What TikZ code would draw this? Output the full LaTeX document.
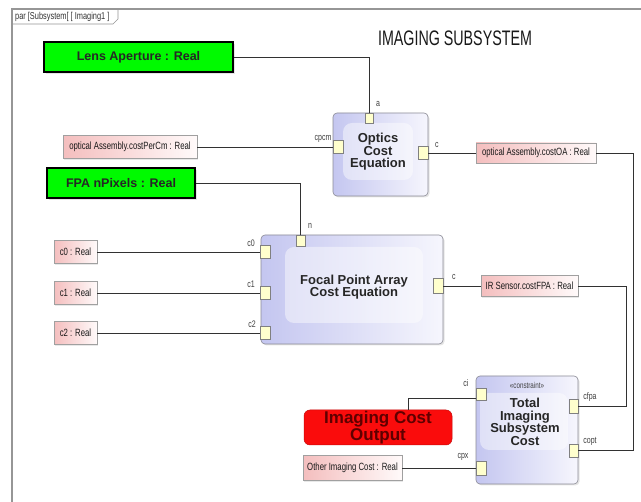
\documentclass[tikz,border=0pt]{standalone}
\usepackage{fontspec}
\setmainfont{Liberation Sans}
\newfontfamily\narrowfont[FakeStretch=0.74]{Liberation Sans}
\newfontfamily\headfont[FakeStretch=0.68]{Liberation Sans}
\usetikzlibrary{shadows}
\definecolor{framegray}{RGB}{150,150,150}
\definecolor{blockL}{RGB}{196,198,240}
\definecolor{blockR}{RGB}{246,246,253}
\definecolor{blockEdge}{RGB}{140,140,150}
\definecolor{portY}{RGB}{255,255,205}
\definecolor{pinkL}{RGB}{244,190,190}
\definecolor{pinkR}{RGB}{255,250,250}
\definecolor{valEdge}{RGB}{160,160,160}
\definecolor{wirec}{RGB}{50,50,50}
\definecolor{outRed}{RGB}{250,12,12}
\definecolor{outText}{RGB}{95,0,0}
\definecolor{limeg}{RGB}{0,250,0}
\tikzset{
  wire/.style={draw=wirec, line width=0.8pt},
  valbox/.style={draw=valEdge, line width=0.5pt, left color=pinkL, right color=pinkR,
    inner sep=0pt, text=black!90, font=\narrowfont\fontsize{10.5}{11}\selectfont,
    drop shadow={shadow xshift=1.2pt, shadow yshift=-1.2pt, opacity=0.18}},
  inputbox/.style={draw=black, line width=1.8pt, fill=limeg, inner sep=0pt,
    text=black!85, font=\bfseries\fontsize{12.5}{14}\selectfont,
    drop shadow={shadow xshift=1.5pt, shadow yshift=-2pt, opacity=0.2}},
  block/.style={draw=blockEdge, line width=0.6pt, rounded corners=4pt,
    left color=blockL, right color=blockR, inner sep=0pt,
    drop shadow={shadow xshift=1.5pt, shadow yshift=-1.5pt, opacity=0.2}},
  blockcore/.style={fill=white, fill opacity=0.45, rounded corners=9pt, inner sep=0pt},
  blocktext/.style={align=center, text=black!85, font=\bfseries\fontsize{13}{12.6}\selectfont},
  port/.style={draw=gray, line width=0.5pt, fill=portY, inner sep=0pt},
  plabel/.style={font=\narrowfont\fontsize{9.5}{10}\selectfont, text=black!75, inner sep=0pt},
}
\begin{document}
\begin{tikzpicture}[x=1pt, y=-1pt]
\useasboundingbox (0,0) rectangle (641,502);
\fill[white] (0,0) rectangle (641,502);

% diagram frame and its tab
\draw[framegray, line width=1.3pt] (12,502) -- (12,9) -- (641,9);
\draw[framegray, line width=0.7pt] (12,24) -- (113,24) -- (118,19) -- (118,9);
\node[anchor=west, inner sep=0pt, text=black!80, font=\narrowfont\fontsize{10}{10}\selectfont]
  (tab) at (15,16.5) {par [Subsystem[ [ Imaging1 ]};

% title
\node[font=\headfont\fontsize{21}{22}\selectfont, text=black!90] (title) at (455,38) {IMAGING SUBSYSTEM};

% ---------- optics cost equation ----------
\node[inputbox, minimum width=189pt, minimum height=30pt] (lens) at (138.5,57) {Lens Aperture : Real};
\node[valbox, minimum width=134pt, minimum height=23pt] (perCm) at (130,147) {optical Assembly.costPerCm : Real};
\node[block, minimum width=95pt, minimum height=83pt] (optics) at (380.5,154.5) {};
\node[blockcore, minimum width=70pt, minimum height=57pt] (opticsCore) at (378,151.5) {};
\node[blocktext] (opticsText) at (378,152) {Optics\\Cost\\Equation};
\node[port, minimum width=8pt, minimum height=10pt] (pa) at (369,118) {};
\node[port, minimum width=10pt, minimum height=13pt] (pcpcm) at (338,147) {};
\node[port, minimum width=10pt, minimum height=13pt] (pco) at (423,153) {};
\node[plabel] (la) at (378,104) {a};
\node[plabel] (lcpcm) at (323,139) {cpcm};
\node[plabel] (lco) at (437,145) {c};
\node[valbox, minimum width=120pt, minimum height=20pt] (costOA) at (536,153) {optical Assembly.costOA : Real};

% ---------- focal point array cost equation ----------
\node[inputbox, minimum width=148pt, minimum height=30pt] (npix) at (121,183) {FPA nPixels : Real};
\node[block, minimum width=182pt, minimum height=109pt] (fpa) at (352,289.5) {};
\node[blockcore, minimum width=138pt, minimum height=76pt] (fpaCore) at (354,285) {};
\node[blocktext] (fpaText) at (354,287) {Focal Point Array\\Cost Equation};
\node[port, minimum width=9pt, minimum height=11pt] (pn) at (300.5,241) {};
\node[port, minimum width=10pt, minimum height=13pt] (pc0) at (265.5,252) {};
\node[port, minimum width=10pt, minimum height=13pt] (pc1) at (265.5,293) {};
\node[port, minimum width=10pt, minimum height=13pt] (pc2) at (265.5,333) {};
\node[port, minimum width=10pt, minimum height=15pt] (pcf) at (438,286) {};
\node[plabel] (ln) at (310,226) {n};
\node[plabel] (lc0) at (251,243) {c0};
\node[plabel] (lc1) at (251,284) {c1};
\node[plabel] (lc2) at (252,324) {c2};
\node[plabel] (lcf) at (454,277) {c};
\node[valbox, minimum width=43pt, minimum height=23pt] (c0) at (75.5,252) {c0 : Real};
\node[valbox, minimum width=43pt, minimum height=23pt] (c1) at (75.5,293) {c1 : Real};
\node[valbox, minimum width=43pt, minimum height=23pt] (c2) at (75.5,333) {c2 : Real};
\node[valbox, minimum width=97pt, minimum height=21pt] (ir) at (529.5,286) {IR Sensor.costFPA : Real};

% ---------- total imaging subsystem cost ----------
\node[block, minimum width=102pt, minimum height=108pt] (total) at (527,430) {};
\node[blockcore, minimum width=88pt, minimum height=57pt] (totalCore) at (524,421.5) {};
\node[plabel, font=\narrowfont\fontsize{8.5}{9}\selectfont] (stereo) at (527,385) {«constraint»};
\node[blocktext] (totalText) at (525,422) {Total\\Imaging\\Subsystem\\Cost};
\node[port, minimum width=10pt, minimum height=12pt] (pci) at (481,394) {};
\node[port, minimum width=10pt, minimum height=14pt] (pcpx) at (481,468) {};
\node[port, minimum width=9pt, minimum height=14pt] (pcfpa) at (573.5,406) {};
\node[port, minimum width=9pt, minimum height=13pt] (pcopt) at (573.5,450.5) {};
\node[plabel] (lci) at (466,383) {ci};
\node[plabel] (lcpx) at (463,457) {cpx};
\node[plabel] (lcfpa) at (590,397) {cfpa};
\node[plabel] (lcopt) at (590,441) {copt};
\node[draw=outRed!80!black, line width=0.5pt, fill=outRed, rounded corners=6pt,
  minimum width=148pt, minimum height=35pt, inner sep=0pt, align=center,
  font=\bfseries\fontsize{17}{17}\selectfont, text=outText] (out) at (378,427.5) {Imaging Cost\\Output};
\node[valbox, minimum width=99pt, minimum height=25pt] (other) at (352.5,468) {Other Imaging Cost : Real};

% ---------- connectors ----------
\draw[wire] (lens.east) -| (pa.north);
\draw[wire] (perCm.east) -- (pcpcm.west);
\draw[wire] (pco.east) -- (costOA.west);
\draw[wire] (costOA.east) -- ++(37,0) |- (pcopt.east);
\draw[wire] (npix.east) -| (pn.north);
\draw[wire] (c0.east) -- (pc0.west);
\draw[wire] (c1.east) -- (pc1.west);
\draw[wire] (c2.east) -- (pc2.west);
\draw[wire] (pcf.east) -- (ir.west);
\draw[wire] (ir.east) -- ++(48,0) |- (pcfpa.east);
\draw[wire] ([xshift=30pt]out.north) |- ([yshift=-4pt]pci.west);
\draw[wire] (other.east) -- (pcpx.west);
\end{tikzpicture}
\end{document}
